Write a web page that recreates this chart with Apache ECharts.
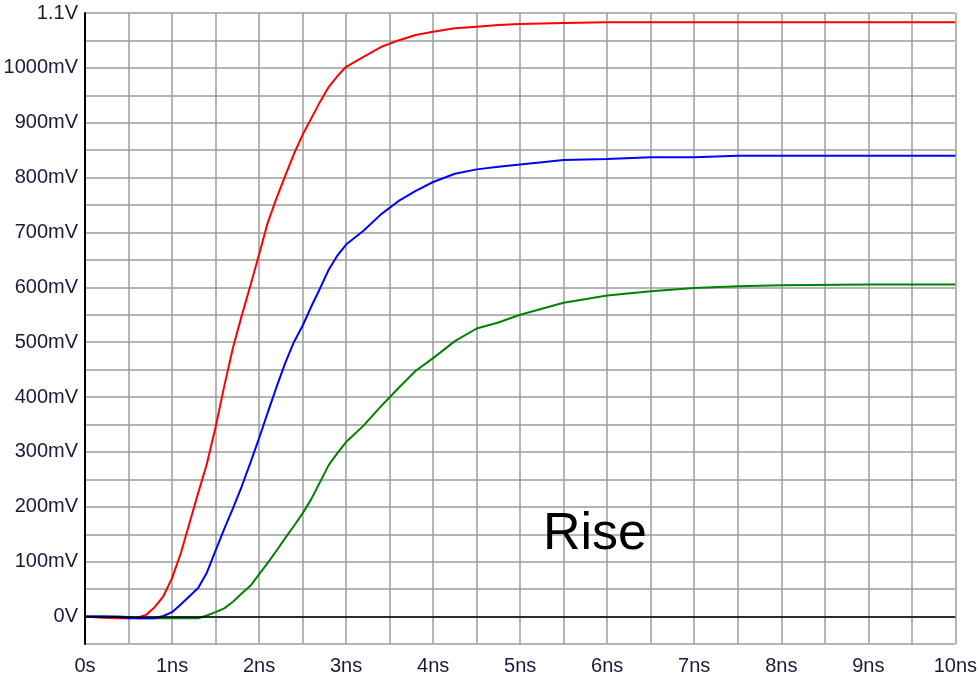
<!DOCTYPE html>
<html>
<head>
<meta charset="utf-8">
<title>Rise</title>
<script src="https://cdn.jsdelivr.net/npm/echarts@6/dist/echarts.min.js"></script>
<style>
  html, body { margin: 0; padding: 0; background: #ffffff; }
  #chart { width: 980px; height: 678px; }
</style>
</head>
<body>
<div id="chart"></div>
<script>
// Time samples (ns) shared by all three traces
var timeNs = [0, 0.2, 0.4, 0.5, 0.6, 0.7, 0.8, 0.9, 1.0, 1.1, 1.2, 1.3, 1.4, 1.5, 1.6, 1.7, 1.8, 1.9,
  2.0, 2.1, 2.2, 2.3, 2.4, 2.5, 2.6, 2.7, 2.8, 2.9, 3.0, 3.2, 3.4, 3.6, 3.8, 4.0, 4.25, 4.5, 4.75,
  5.0, 5.5, 6.0, 6.5, 7.0, 7.5, 8.0, 9.0, 10.0];

// Voltages (mV) of each trace at the samples above
var redMv = [0, -2, -3, -3, -2, 3, 17, 37, 70, 115, 170, 225, 278, 345, 420, 490, 548, 603,
  660, 718, 762, 803, 843, 878, 908, 938, 965, 985, 1002, 1020, 1038, 1050, 1060, 1066, 1072, 1075, 1078,
  1080, 1082, 1083, 1083, 1083, 1083, 1083, 1083, 1083];
var blueMv = [0, 0, -1, -3, -3, -3, -3, 1, 8, 22, 37, 52, 80, 120, 160, 197, 237, 280,
  325, 372, 418, 462, 500, 530, 565, 598, 632, 658, 678, 703, 733, 757, 776, 792, 807, 815, 820,
  824, 832, 834, 837, 837, 840, 840, 840, 840];
var greenMv = [0, 0, 0, -1, -3, -3, -3, -3, -3, -3, -3, -3, 2, 8, 15, 27, 42, 56,
  77, 98, 120, 143, 165, 188, 214, 245, 276, 298, 318, 348, 383, 416, 448, 471, 502, 525, 536,
  550, 572, 585, 593, 599, 602, 604, 605, 605];

// Axis label texts
var xTickLabels = ['0s', '1ns', '2ns', '3ns', '4ns', '5ns', '6ns', '7ns', '8ns', '9ns', '10ns'];
var yTickLabels = { 0: '0V', 1100: '1.1V' };

var FONT = "'Liberation Sans', Arial, sans-serif";
var GRID_COLOR = '#9c9c9c';
var LABEL_COLOR = '#1a1a3a';

function pairs(values) {
  return timeNs.map(function (t, i) { return [t, values[i]]; });
}

function trace(name, color, values, extra) {
  var s = {
    name: name,
    type: 'line',
    data: pairs(values),
    showSymbol: false,
    symbol: 'none',
    smooth: false,
    animation: false,
    lineStyle: { color: color, width: 2 },
    z: 3
  };
  if (extra) { for (var k in extra) s[k] = extra[k]; }
  return s;
}

var chart = echarts.init(document.getElementById('chart'), null, { renderer: 'canvas' });

chart.setOption({
  backgroundColor: '#ffffff',
  animation: false,
  grid: { left: 85, right: 20, top: 13, bottom: 34, containLabel: false },
  xAxis: {
    type: 'value',
    min: 0,
    max: 10,
    interval: 0.5,
    axisLine: { show: false },
    axisTick: { show: false },
    splitLine: { show: true, lineStyle: { color: GRID_COLOR, width: 1.5 } },
    axisLabel: {
      margin: 12,
      fontFamily: FONT,
      fontSize: 20,
      color: LABEL_COLOR,
      formatter: function (v) {
        if (Math.abs(v - Math.round(v)) > 1e-6) return '';
        return xTickLabels[Math.round(v)];
      }
    }
  },
  yAxis: {
    type: 'value',
    min: -50,
    max: 1100,
    interval: 50,
    axisLine: { show: true, lineStyle: { color: '#000000', width: 2 } },
    axisTick: { show: false },
    splitLine: { show: true, lineStyle: { color: GRID_COLOR, width: 1.5 } },
    axisLabel: {
      margin: 7,
      fontFamily: FONT,
      fontSize: 20,
      color: LABEL_COLOR,
      formatter: function (v) {
        if (v < 0 || v % 100 !== 0) return '';
        if (yTickLabels[v] !== undefined) return yTickLabels[v];
        return v + 'mV';
      }
    }
  },
  series: [
    trace('red', '#ff0000', redMv, {
      markLine: {
        silent: true,
        symbol: 'none',
        label: { show: false },
        lineStyle: { color: '#000000', width: 1.5, type: 'solid' },
        data: [{ yAxis: 0 }],
        animation: false
      }
    }),
    trace('green', '#008000', greenMv),
    trace('blue', '#0000ff', blueMv)
  ],
  graphic: [{
    type: 'text',
    left: 543,
    top: 509,
    style: {
      text: 'Rise',
      font: '52px ' + FONT,
      fill: '#000000'
    },
    z: 10
  }]
});
</script>
</body>
</html>
